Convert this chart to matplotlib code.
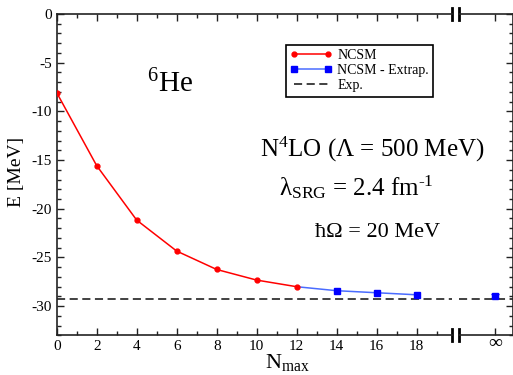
import matplotlib
matplotlib.use("Agg")
import matplotlib.pyplot as plt
from matplotlib.ticker import MultipleLocator
from matplotlib.lines import Line2D

plt.rcParams['font.family'] = ['Liberation Serif', 'DejaVu Serif']
plt.rcParams['mathtext.fontset'] = 'custom'
plt.rcParams['mathtext.rm'] = 'Liberation Serif'
plt.rcParams['mathtext.it'] = 'Liberation Serif:italic'
plt.rcParams['axes.unicode_minus'] = False

# NCSM results for 6He
nmax_ncsm = [0, 2, 4, 6, 8, 10, 12]
e_ncsm = [-8.08, -15.58, -21.17, -24.35, -26.24, -27.33, -28.01]
nmax_extrap = [12, 14, 16, 18]
e_extrap = [-28.01, -28.42, -28.63, -28.84]
e_inf = -28.97
e_inf_err = 0.2
e_exp = -29.27

red = '#ff0000'
blue = '#0000ff'
lblue = '#4a6cff'
spine_col = '#222222'
dash = (0, (4.5, 2.5))

W, H = 513, 375
fig = plt.figure(figsize=(W / 100, H / 100), dpi=100)
bot, top = 335.3, 14
ax = fig.add_axes([56.7 / W, (H - bot) / H, 395 / W, (bot - top) / H])
ax2 = fig.add_axes([458.5 / W, (H - bot) / H, 54.5 / W, (bot - top) / H])
ax2.patch.set_visible(False)


def px(x, y):
    return x / W, 1 - y / H


# main panel
ax.plot(nmax_extrap, e_extrap, color=lblue, lw=1.1, zorder=3)
ax.plot(nmax_extrap[1:], e_extrap[1:], ls='none', marker='s', ms=4,
        mfc=blue, mec=blue, zorder=3)
ax.plot(nmax_ncsm, e_ncsm, color=red, lw=1.1, marker='o', ms=3.5,
        mfc=red, mec=red, zorder=4)
ax.axhline(e_exp, color='#333333', lw=1.3, ls=dash)

ax.set_xlim(0, 19.75)
ax.set_ylim(-33, 0)
ax.set_xticks(range(0, 19, 2))
ax.xaxis.set_minor_locator(MultipleLocator(1))
ax.yaxis.set_major_locator(MultipleLocator(5))
ax.yaxis.set_minor_locator(MultipleLocator(1))
ax.tick_params(which='both', direction='in', top=True, right=False,
               labelsize=11, color=spine_col, width=1)
ax.tick_params(which='major', length=5)
ax.tick_params(which='minor', length=3)
ax.spines['right'].set_visible(False)
for s in ['left', 'top', 'bottom']:
    ax.spines[s].set_color(spine_col)
    ax.spines[s].set_linewidth(1.2)

# infinity panel
ax2.errorbar([0], [e_inf], yerr=e_inf_err, fmt='s', color=blue, ms=4,
             capsize=3, elinewidth=1.2)
ax2.axhline(e_exp, color='#333333', lw=1.3, ls=dash)
ax2.set_xlim(-1.825, 0.9)
ax2.set_ylim(-33, 0)
ax2.set_xticks([0])
ax2.set_xticklabels(['∞'])
ax2.yaxis.set_major_locator(MultipleLocator(5))
ax2.yaxis.set_minor_locator(MultipleLocator(1))
ax2.tick_params(which='both', direction='in', top=True, left=False, right=True,
                labelleft=False, labelsize=14, color=spine_col, width=1)
ax2.tick_params(axis='x', pad=0)
ax2.tick_params(which='major', length=5)
ax2.tick_params(which='minor', length=3)
ax2.spines['left'].set_visible(False)
for s in ['right', 'top', 'bottom']:
    ax2.spines[s].set_color(spine_col)
    ax2.spines[s].set_linewidth(1.2)

# axis break marks
dy = 6 / (bot - top)
for a, x in [(ax, 1.0), (ax2, 0.0)]:
    for y in [0.0, 1.0]:
        a.plot([x, x], [y - dy, y + dy], transform=a.transAxes, color='black',
               lw=2, clip_on=False)

# axis labels
fig.text(*px(17, 172), 'E [MeV]', fontsize=14, rotation=90,
         ha='center', va='center')
fig.text(*px(287, 368), r'N$_{\mathrm{max}}$', fontsize=16,
         ha='center', va='baseline')

# annotations
fig.text(*px(170, 92), r'$^{\mathrm{6}}$He', fontsize=21,
         ha='center', va='baseline')
fig.text(*px(372, 157), r'N$^{\mathrm{4}}$LO (Λ = 500 MeV)', fontsize=18,
         ha='center', va='baseline')
fig.text(*px(356, 195), 'λ$_{\\mathrm{SRG}}$ = 2.4 fm$^{\\mathrm{\u20101}}$',
         fontsize=18, ha='center', va='baseline')
fig.text(*px(378, 237), 'ħΩ = 20 MeV', fontsize=16,
         ha='center', va='baseline')

handles = [
    Line2D([], [], color=red, lw=1.1, marker='o', ms=3.5, mfc=red, mec=red),
    Line2D([], [], color=lblue, lw=1.1, marker='s', ms=4, mfc=blue, mec=blue),
    Line2D([], [], color='#333333', lw=1.3, ls=dash),
]
leg = ax.legend(handles, ['NCSM', 'NCSM - Extrap.', 'Exp.'], loc='upper left',
                bbox_to_anchor=(0.5805, 0.9035), borderaxespad=0, fontsize=10,
                frameon=True, fancybox=False, edgecolor='black', framealpha=1,
                handlelength=3, numpoints=2, borderpad=0.3, labelspacing=0.15,
                handletextpad=0.4)
leg.get_frame().set_linewidth(1.2)

fig.savefig('out.png', dpi=100)
